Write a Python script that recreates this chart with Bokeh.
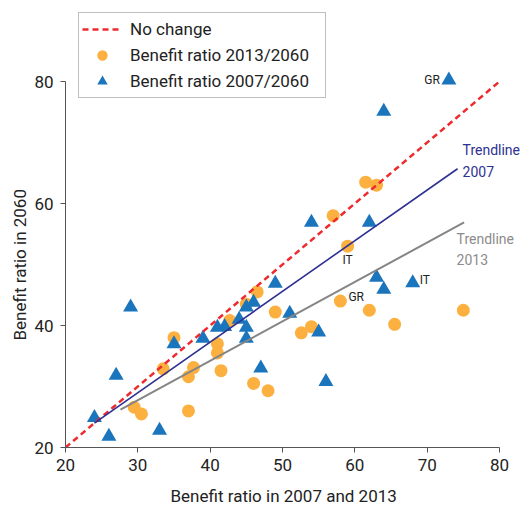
from bokeh.plotting import figure
from bokeh.models import Range1d, Legend, LegendItem, Label, Title, LinearAxis, FixedTicker
from bokeh.core.properties import value
from bokeh.embed import file_html
from bokeh.resources import INLINE

# Benefit ratio 2013 -> 2060 (circles)
x2013 = [61.5, 63.0, 57.0, 59.0, 58.0, 62.0, 65.5, 75.0, 54.0, 52.6, 46.5, 45.0, 49.0,
         42.7, 41.0, 41.0, 41.5, 35.0, 37.7, 37.0, 46.0, 48.0, 37.0, 33.5, 29.5, 30.5]
y2013 = [63.5, 63.0, 58.0, 53.0, 44.0, 42.5, 40.2, 42.5, 39.8, 38.8, 45.5, 43.5, 42.2,
         40.8, 37.0, 35.5, 32.6, 38.0, 33.1, 31.6, 30.5, 29.3, 26.0, 32.9, 26.6, 25.5]
# Benefit ratio 2007 -> 2060 (triangles)
x2007 = [73.0, 64.0, 54.0, 62.0, 63.0, 64.0, 68.0, 51.0, 55.0, 56.0, 49.0, 46.0, 45.0,
         44.0, 45.0, 42.0, 41.0, 45.0, 39.0, 35.0, 47.0, 29.0, 27.0, 24.0, 26.0, 33.0]
y2007 = [80.2, 75.1, 56.9, 56.9, 47.9, 45.9, 47.0, 42.0, 38.9, 30.8, 46.9, 43.8, 43.0,
         41.0, 39.7, 39.8, 39.7, 37.9, 37.9, 37.0, 33.0, 43.0, 31.8, 24.9, 21.8, 22.8]

nochange_x = [20, 80]
nochange_y = [20, 80]
trend2007_x = [24.0, 74.2]
trend2007_y = [24.0, 65.7]
trend2013_x = [27.6, 75.1]
trend2013_y = [26.2, 56.9]

x_ticks = [20, 30, 40, 50, 60, 70, 80]
y_ticks = [20, 40, 60, 80]

# country labels: (index, text)
tri_labels = [(0, "GR"), (6, "IT")]
circ_labels = [(3, "IT"), (4, "GR")]

FONT = "Roboto"
TXT = "#222222"

p = figure(frame_width=455, frame_height=437,
           x_range=Range1d(20, 82.9), y_range=Range1d(20, 91.64),
           output_backend="svg", toolbar_location=None,
           min_border_left=65, min_border_top=10, min_border_right=0, min_border_bottom=0)
p.xgrid.visible = False
p.ygrid.visible = False
p.outline_line_color = None
p.background_fill_color = "white"
p.border_fill_color = "white"

for ax in (p.xaxis[0], p.yaxis[0]):
    ax.axis_line_color = "#555555"
    ax.major_tick_line_color = "#555555"
    ax.minor_tick_line_color = None
    ax.major_tick_in = 0
    ax.major_tick_out = 5
    ax.major_label_text_font = FONT
    ax.major_label_text_font_size = "17px"
    ax.major_label_text_color = TXT

p.xaxis.ticker = x_ticks
p.yaxis.ticker = y_ticks
p.xaxis.bounds = (20, 80)
p.yaxis.bounds = (20, 80)
p.xaxis.major_label_standoff = 6
p.yaxis.major_label_standoff = 7

# blank spacer axis (white tick, no line, no labels) to push the x title down a little
spacer = LinearAxis(ticker=FixedTicker(ticks=[82]), axis_line_color=None,
                    major_tick_line_color="white", minor_tick_line_color=None,
                    major_tick_in=0, major_tick_out=10, minor_tick_in=0, minor_tick_out=0,
                    major_label_standoff=0, major_label_text_color=None,
                    major_label_text_font_size="1px")
p.add_layout(spacer, "below")

xt = Title(text="Benefit ratio in 2007 and 2013", align="left", offset=105,
           text_font=FONT, text_font_size="17px", text_font_style="normal",
           text_color=TXT, standoff=0, vertical_align="bottom")
p.add_layout(xt, "below")
yt = Title(text="Benefit ratio in 2060", align="left", offset=107,
           text_font=FONT, text_font_size="17px", text_font_style="normal",
           text_color=TXT, standoff=4)
p.add_layout(yt, "left")

circ = p.scatter(x2013, y2013, marker="circle", size=13,
                 fill_color="#FBB040", line_color=None)
tri = p.scatter(x2007, y2007, marker="triangle", size=15,
                fill_color="#1B75BC", line_color=None)
red = p.line(nochange_x, nochange_y, line_color="#EE2A2E", line_width=2.5, line_dash="6 4")
p.line(trend2007_x, trend2007_y, line_color="#2E3192", line_width=1.6)
p.line(trend2013_x, trend2013_y, line_color="#858585", line_width=2)

# country labels
for i, t in tri_labels:
    if t == "GR":
        p.text([x2007[i]], [y2007[i]], text=[t], x_offset=-9, y_offset=0,
               text_align="right", text_baseline="middle",
               text_font=value(FONT), text_font_size="12px", text_color=TXT)
    else:
        p.text([x2007[i]], [y2007[i]], text=[t], x_offset=7, y_offset=-3,
               text_align="left", text_baseline="middle",
               text_font=value(FONT), text_font_size="12px", text_color=TXT)
for i, t in circ_labels:
    if t == "IT":
        p.text([x2013[i]], [y2013[i]], text=[t], x_offset=0, y_offset=14,
               text_align="center", text_baseline="middle",
               text_font=value(FONT), text_font_size="12px", text_color=TXT)
    else:
        p.text([x2013[i]], [y2013[i]], text=[t], x_offset=8, y_offset=-4,
               text_align="left", text_baseline="middle",
               text_font=value(FONT), text_font_size="12px", text_color=TXT)

for txt, yy, col, xx in [("Trendline", 68.85, "#2E3192", 74.89), ("2007", 65.25, "#2E3192", 74.89),
                         ("Trendline", 54.26, "#8C8C8C", 74.06), ("2013", 50.82, "#8C8C8C", 74.06)]:
    p.add_layout(Label(x=xx, y=yy, text=txt, text_font=FONT, text_font_size="14px",
                       text_color=col, text_baseline="middle", text_align="left"))

legend = Legend(items=[LegendItem(label="No change", renderers=[red]),
                       LegendItem(label="Benefit ratio 2013/2060", renderers=[circ]),
                       LegendItem(label="Benefit ratio 2007/2060", renderers=[tri])],
                location=(13, 437 - 3 - 84 - 1))
legend.label_text_font = FONT
legend.label_text_font_size = "17px"
legend.label_text_color = TXT
legend.glyph_width = 40
legend.glyph_height = 26
legend.label_height = 26
legend.label_width = 192
legend.spacing = 0
legend.padding = 3
legend.label_standoff = 8
legend.border_line_color = "#808080"
legend.border_line_width = 1
legend.background_fill_color = "white"
legend.background_fill_alpha = 1
legend.margin = 0
p.add_layout(legend, "center")

open("out.html", "w").write(file_html(p, INLINE))
